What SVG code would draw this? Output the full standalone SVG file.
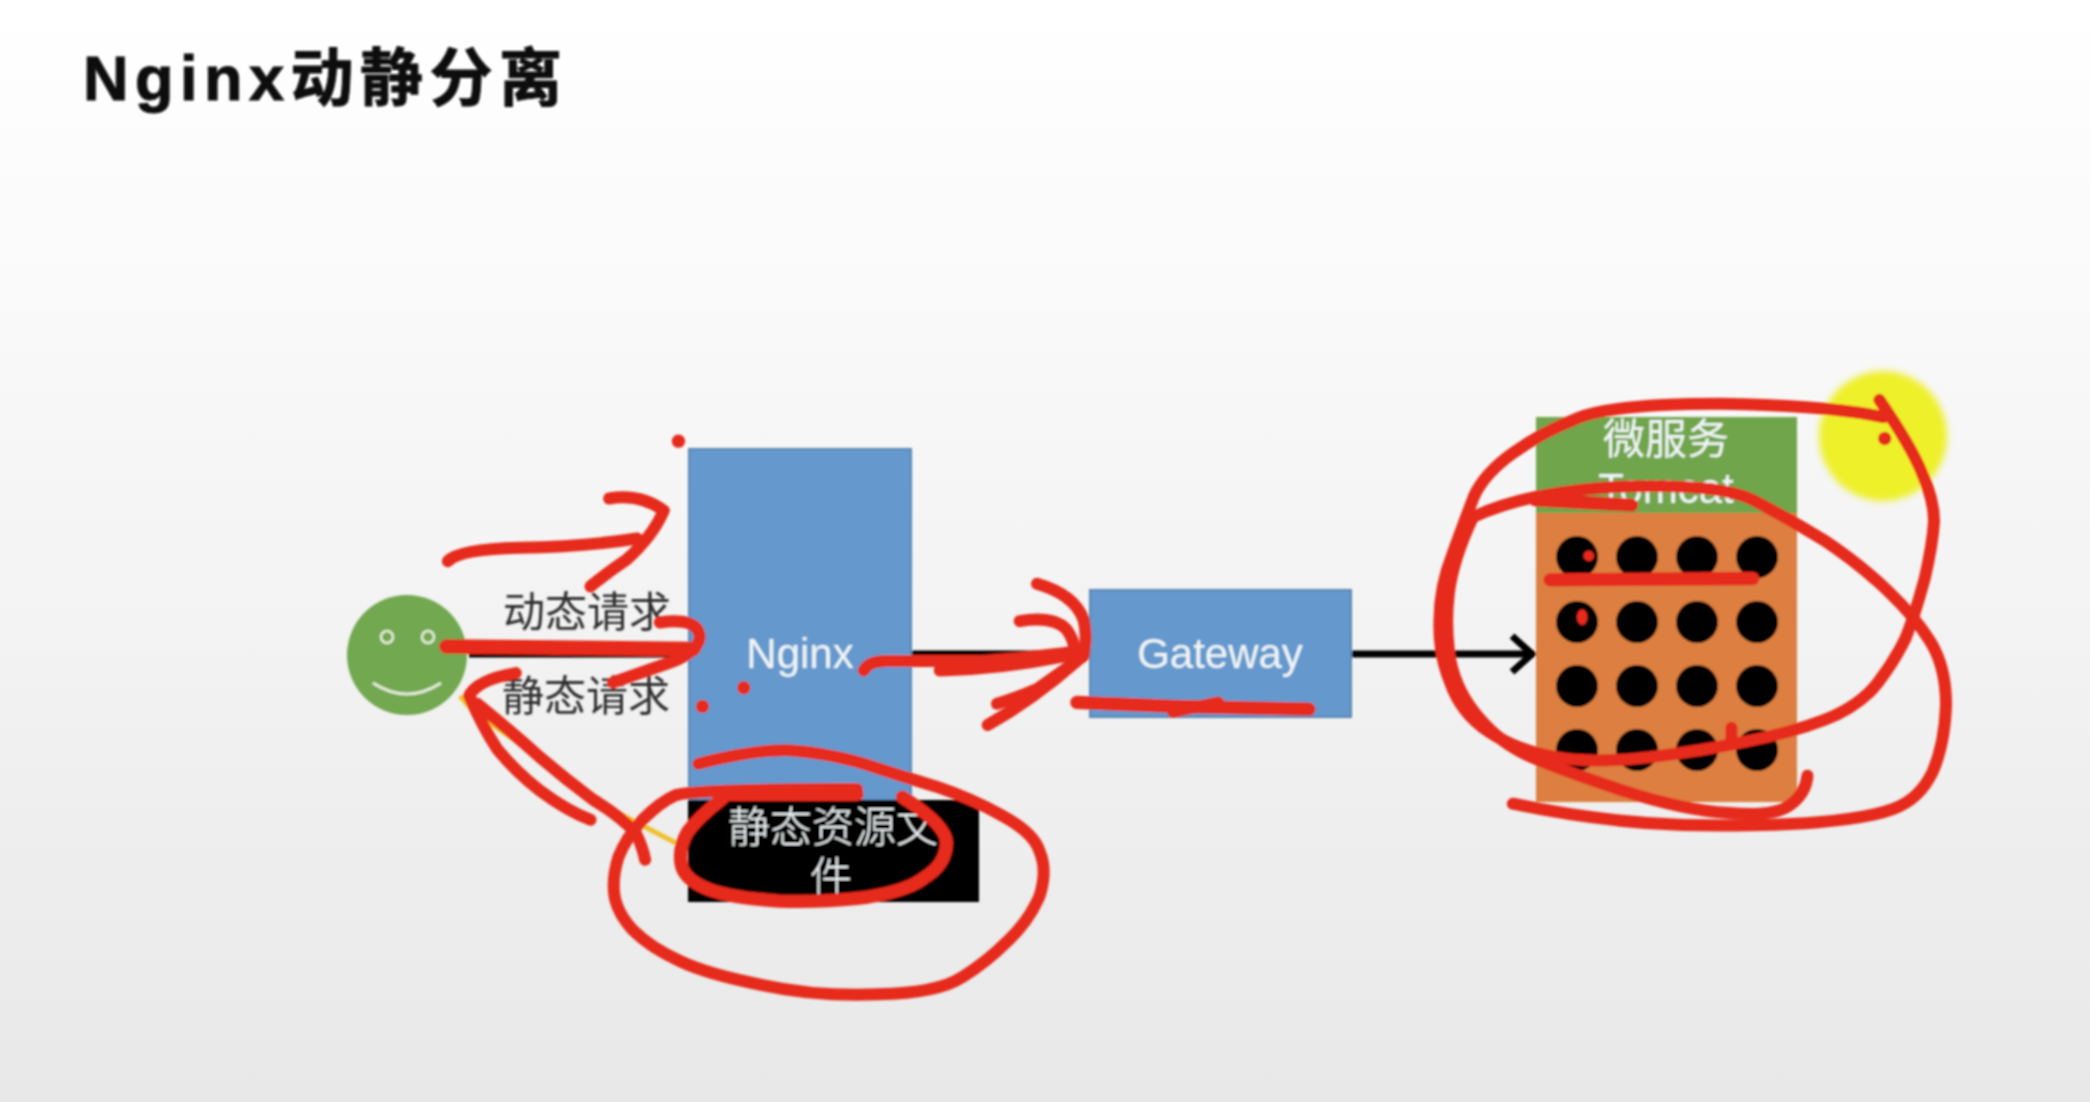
<svg xmlns="http://www.w3.org/2000/svg" width="2090" height="1102" viewBox="0 0 2090 1102">
<style>
text{font-family:"Liberation Sans","Noto Sans CJK SC",sans-serif;font-size:42px;text-anchor:middle}
.lt{fill:#f0f5f5}
.dk{fill:#2f2f2f}
.blue{fill:#6599cd;stroke:#5a86b4;stroke-width:2}
.dot{fill:#000}
.wire{fill:none;stroke:#000;stroke-width:7}
.ink{fill:none;stroke:#e62a1c;stroke-width:9;stroke-linecap:round;stroke-linejoin:round}
.inkdot{fill:#e62a1c}
</style>
<defs>
<linearGradient id="bg" x1="0" y1="0" x2="0" y2="1">
<stop offset="0" stop-color="#ffffff"/>
<stop offset="0.2" stop-color="#fbfbfb"/>
<stop offset="0.6" stop-color="#f1f2f1"/>
<stop offset="1" stop-color="#e7e8e7"/>
</linearGradient>
<marker id="open" markerUnits="userSpaceOnUse" markerWidth="40" markerHeight="50" refX="32" refY="25" orient="auto">
<path d="M10,7 L30,25 L10,43" fill="none" stroke="#000" stroke-width="7"/>
</marker>
<filter id="soft" x="-5%" y="-5%" width="110%" height="110%"><feGaussianBlur stdDeviation="0.8"/></filter>
<filter id="softer" x="-20%" y="-20%" width="140%" height="140%"><feGaussianBlur stdDeviation="3"/></filter>
</defs>
<rect width="2090" height="1102" fill="url(#bg)"/>
<g filter="url(#soft)">
<text id="title" x="83" y="100" style="font-size:63px;font-weight:bold;text-anchor:start;letter-spacing:6.5px" fill="#0a0a0a" stroke="#0a0a0a" stroke-width="1">Nginx动静分离</text>

<ellipse id="highlight" cx="1883" cy="436" rx="64" ry="65" fill="#eef02a" filter="url(#softer)"/>

<g id="connectors">
<path class="wire" d="M469,654 H689"/>
<path class="wire" d="M911,654 H1090"/>
<path class="wire" d="M1351,654 H1534" marker-end="url(#open)"/>
<path d="M460,696 L475,713 L540,757 L593,800 L676,843" fill="none" stroke="#f0c030" stroke-width="5"/>
</g>

<g id="user">
<circle cx="407" cy="655" r="60" fill="#72a84f"/>
<circle cx="387" cy="637" r="6" fill="none" stroke="#e4ecd8" stroke-width="2.5"/>
<circle cx="428" cy="637" r="6" fill="none" stroke="#e4ecd8" stroke-width="2.5"/>
<path d="M373,683 Q407,705 441,683" fill="none" stroke="#e4ecd8" stroke-width="3"/>
</g>

<text id="label-dynamic" class="dk" x="587" y="627">动态请求</text>
<text id="label-static" class="dk" x="586" y="711">静态请求</text>

<g id="nginx">
<rect class="blue" x="689" y="449" width="222" height="351"/>
<text class="lt" x="800" y="668">Nginx</text>
</g>

<g id="static-files">
<rect x="688" y="800" width="291" height="102" fill="#000"/>
<text class="lt" x="833" y="842" style="font-weight:300">静态资源文</text>
<text class="lt" x="831" y="892" style="font-weight:300">件</text>
</g>

<g id="gateway">
<rect class="blue" x="1090" y="590" width="261" height="127"/>
<text class="lt" x="1220" y="668">Gateway</text>
</g>

<g id="microservice">
<rect x="1536" y="417" width="261" height="96" fill="#71a54c"/>
<text class="lt" x="1666" y="454">微服务</text>
<text class="lt" x="1666" y="503">Tomcat</text>
<rect x="1536" y="513" width="261" height="289" fill="#dd7f3f"/>
<g class="dot">
<circle cx="1577" cy="557" r="21"/><circle cx="1637" cy="557" r="21"/><circle cx="1697" cy="557" r="21"/><circle cx="1757" cy="557" r="21"/>
<circle cx="1577" cy="622" r="21"/><circle cx="1637" cy="622" r="21"/><circle cx="1697" cy="622" r="21"/><circle cx="1757" cy="622" r="21"/>
<circle cx="1577" cy="686" r="21"/><circle cx="1637" cy="686" r="21"/><circle cx="1697" cy="686" r="21"/><circle cx="1757" cy="686" r="21"/>
<circle cx="1577" cy="750" r="21"/><circle cx="1637" cy="750" r="21"/><circle cx="1697" cy="750" r="21"/><circle cx="1757" cy="750" r="21"/>
</g>
</g>

<g id="annotations" transform="scale(1.3329)">
<g class="ink">
<path d="M336,421 Q345,412 390,411 Q440,410 478,404"/>
<path d="M457,374 Q480,370 498,383 Q490,402 470,420 Q455,430 443,440"/>
<path d="M335,485 L520,487" stroke-width="11"/>
<path d="M495,467 Q524,463 525,478 Q524,490 500,498 Q480,505 460,512"/>
<path d="M387,505 Q358,510 352,522 Q362,545 373,562 Q388,580 405,593 Q425,608 443,615"/>
<path d="M358,528 Q385,550 405,568 Q425,585 445,600 Q465,612 477,625 Q482,635 484,645"/>
<path d="M648,503 Q652,496 665,496 Q700,496 734,496 Q770,494 806,489"/>
<path d="M705,503 Q750,502 800,492"/>
<path d="M778,438 Q806,446 813,465 Q816,478 813,490"/>
<path d="M765,466 Q790,462 800,472 Q806,480 806,488"/>
<path d="M813,492 Q795,505 778,517 Q762,524 748,528"/>
<path d="M808,496 Q775,525 741,544"/>
<path d="M808,527 L880,530 L982,532" stroke-width="10"/>
<path d="M880,534 L914,527"/>
<path d="M524,573 Q567,562 594,563 Q621,565 648,573 Q675,582 702,590 Q729,599 752,612 Q776,625 780,639 Q786,653 780,672 Q772,691 756,706 Q740,722 722,733 Q704,745 659,746 Q614,748 572,739 Q531,731 510,721 Q488,711 475,698 Q463,685 461,672 Q459,659 464,643 Q470,628 482,615 Q495,602 506,597 Q517,592 643,592"/>
<path d="M540,596 L643,596" stroke-width="10"/>
<path d="M677,598 Q710,619 710,632 Q710,648 694,658 Q682,668 651,673 Q621,677 585,676 Q549,674 531,667 Q513,660 511,648 Q509,636 516,624 Q524,613 542,599" stroke-width="10"/>
<path d="M1413,313 Q1370,304 1290,303 Q1209,303 1183,314 Q1157,324 1135,340 Q1114,355 1106,372 Q1099,390 1090,415 Q1080,440 1080,465 Q1079,490 1088,512 Q1096,535 1117,549 Q1138,563 1167,568 Q1196,573 1238,568 Q1279,563 1311,556 Q1343,550 1369,540 Q1395,530 1409,512 Q1422,495 1430,478 Q1437,460 1444,434 Q1450,408 1451,391 Q1451,375 1442,355 Q1434,335 1410,300"/>
<path d="M1105,388 Q1148,368 1220,365 Q1291,363 1315,375 Q1340,388 1368,405 Q1395,423 1416,443 Q1437,463 1448,481 Q1460,500 1460,529 Q1459,558 1450,579 Q1440,600 1420,607 Q1401,614 1362,617 Q1324,620 1263,619 Q1202,617 1135,603"/>
<path d="M1105,388 Q1090,420 1087,445 Q1084,470 1088,495 Q1093,520 1110,539 Q1126,558 1149,568 Q1172,578 1217,593 Q1263,608 1297,610 Q1331,613 1343,604 Q1355,595 1356,582"/>
<path d="M1152,375 L1224,379" stroke-width="10"/>
<path d="M1163,435 L1315,434" stroke-width="10"/>
<path d="M1299,546 L1299,556"/>
</g>
<circle class="inkdot" cx="509" cy="331" r="5"/>
<circle class="inkdot" cx="558" cy="516" r="5"/>
<circle class="inkdot" cx="527" cy="530" r="5"/>
<circle class="inkdot" cx="1192" cy="417" r="4"/>
<ellipse class="inkdot" cx="1187" cy="463" rx="4" ry="6"/>
<circle class="inkdot" cx="1414" cy="329" r="5"/>
</g>
</g>
</svg>
